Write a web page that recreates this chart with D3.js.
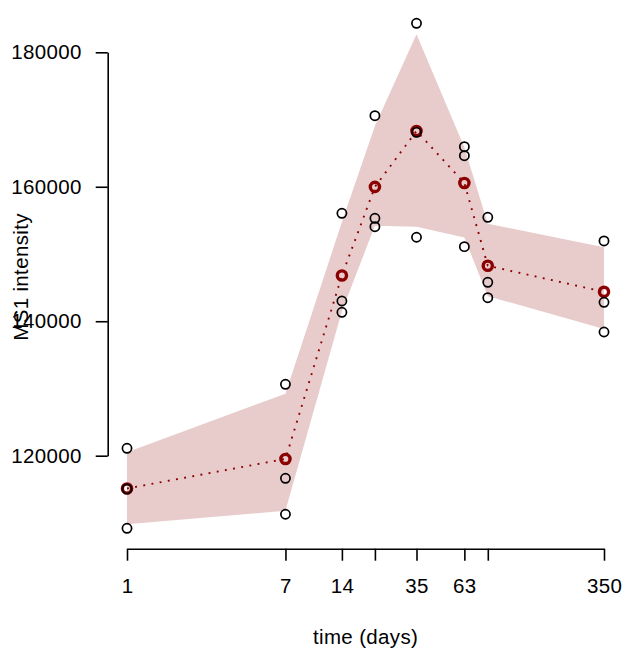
<!DOCTYPE html>
<html>
<head>
<meta charset="utf-8">
<script src="https://cdn.jsdelivr.net/npm/d3@7"></script>
<style>
  html, body { margin: 0; padding: 0; background: #fff; }
  svg { display: block; }
  text { font-family: "Liberation Sans", Arial, Helvetica, sans-serif; }
</style>
</head>
<body>
<svg id="chart" width="625" height="650"></svg>
<script>
// ---- data ----
const days = [1, 7, 14, 21, 35, 63, 84, 350];
const rep1 = [121100, 130620, 156050, 170570, 184310, 165960, 155460, 151940];
const rep2 = [115050, 116640, 143010, 155310, 168100, 164620, 145790, 142820];
const rep3 = [109200, 111290, 141330, 154060, 152490, 151090, 143500, 138400];
const meanIntensity = [115120, 119520, 146800, 159980, 168300, 160560, 148250, 144380];
const bandLow  = [109790, 111820, 141500, 154190, 154050, 152440, 143730, 138840];
const bandHigh = [120500, 129220, 154750, 169040, 182690, 165830, 154490, 151020];
const xTickValues = [1, 7, 14, 21, 35, 63, 84, 350];
const xTickLabels = ["1", "7", "14", "", "35", "63", "", "350"];
const yTickValues = [120000, 140000, 160000, 180000];
const xLabel = "time (days)";
const yLabel = "MS1 intensity";

// ---- drawing ----
const svg = d3.select("#chart");
const FS = 20.5;
const LS = "0.35px";

const x = d3.scaleLog().domain([1, 350]).range([127, 604]);
const y = d3.scaleLinear().domain([120000, 180000]).range([455.7, 52.3]);
const xAxisY = 548.7;
const yAxisX = 107.7;

// band
const bandData = days.map((d, i) => ({ d, lo: bandLow[i], hi: bandHigh[i] }));
svg.append("path")
  .datum(bandData)
  .attr("fill", "#e8cccc")
  .attr("stroke", "none")
  .attr("d", d3.area().x(p => x(p.d)).y0(p => y(p.lo)).y1(p => y(p.hi)));

// mean dotted line
const meanData = days.map((d, i) => ({ d, v: meanIntensity[i] }));
svg.append("path")
  .datum(meanData)
  .attr("fill", "none")
  .attr("stroke", "#8b0000")
  .attr("stroke-width", 1.9)
  .attr("stroke-dasharray", "1.9,6.4")
  .attr("d", d3.line().x(p => x(p.d)).y(p => y(p.v)));

// mean points
svg.append("g").selectAll("circle")
  .data(meanData)
  .join("circle")
  .attr("cx", p => x(p.d))
  .attr("cy", p => y(p.v))
  .attr("r", 4.6)
  .attr("fill", "none")
  .attr("stroke", "#8b0000")
  .attr("stroke-width", 3.4);

// replicate points
const reps = [];
[rep1, rep2, rep3].forEach(arr => arr.forEach((v, i) => reps.push({ d: days[i], v })));
svg.append("g").selectAll("circle")
  .data(reps)
  .join("circle")
  .attr("cx", p => x(p.d))
  .attr("cy", p => y(p.v))
  .attr("r", 4.6)
  .attr("fill", "none")
  .attr("stroke", "#000")
  .attr("stroke-width", 1.7);

// axes
const xAxis = d3.axisBottom(x)
  .tickValues(xTickValues)
  .tickFormat((d, i) => xTickLabels[i])
  .tickSize(12)
  .tickSizeOuter(0)
  .tickPadding(18);
const gx = svg.append("g")
  .attr("transform", `translate(0,${xAxisY})`)
  .call(xAxis);

const yAxis = d3.axisLeft(y)
  .tickValues(yTickValues)
  .tickFormat(d3.format("d"))
  .tickSize(12)
  .tickSizeOuter(0)
  .tickPadding(14);
const gy = svg.append("g")
  .attr("transform", `translate(${yAxisX},0)`)
  .call(yAxis);

[gx, gy].forEach(g => {
  g.attr("font-size", FS).attr("font-family", null);
  g.selectAll("text").attr("fill", "#000").attr("letter-spacing", LS);
  g.selectAll("line, path").attr("stroke", "#000").attr("stroke-width", 1.6);
});

// axis titles
svg.append("text")
  .attr("x", 365.6)
  .attr("y", 644)
  .attr("text-anchor", "middle")
  .attr("font-size", FS)
  .attr("letter-spacing", LS)
  .attr("fill", "#000")
  .text(xLabel);

svg.append("text")
  .attr("transform", `translate(28,277) rotate(-90)`)
  .attr("text-anchor", "middle")
  .attr("font-size", FS)
  .attr("letter-spacing", LS)
  .attr("fill", "#000")
  .text(yLabel);
</script>
</body>
</html>
